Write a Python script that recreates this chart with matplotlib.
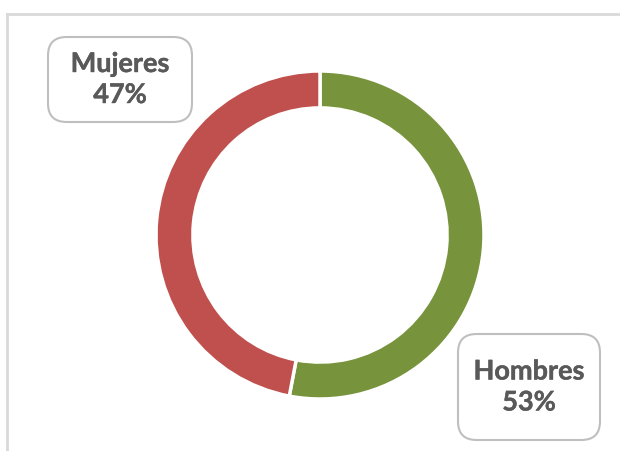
import matplotlib.pyplot as plt
import matplotlib.patheffects as pe
from matplotlib.lines import Line2D
from matplotlib.patches import FancyBboxPatch

labels = ['Hombres', 'Mujeres']
values = [53, 47]
colors = ['#77933C', '#C0504D']

W, H = 620, 451
fig = plt.figure(figsize=(W / 100, H / 100), dpi=100)

# donut centred at ~(320, 235) px, outer radius ~164 px
cx, cy, r = 320, 235, 164
ax = fig.add_axes([(cx - r) / W, (H - cy - r) / H, 2 * r / W, 2 * r / H])
ax.pie(values, colors=colors, startangle=90, counterclock=False, radius=1,
       wedgeprops=dict(width=0.225, edgecolor='white', linewidth=2.5))
ax.set_xlim(-1, 1)
ax.set_ylim(-1, 1)
ax.set_aspect('equal')
ax.axis('off')

# chart container border (top + left only visible)
fig.add_artist(Line2D([7 / W, 1], [1 - 14 / H, 1 - 14 / H], color='#D9D9D9', lw=2,
                      transform=fig.transFigure))
fig.add_artist(Line2D([7 / W, 7 / W], [1 - 14 / H, 0], color='#D9D9D9', lw=2,
                      transform=fig.transFigure))

# data label boxes: (x0, y0, x1, y1) in px from top-left
boxes = {'Mujeres': (48, 37, 192, 122), 'Hombres': (458, 334, 600, 440)}
for lab, val in zip(labels, values):
    x0, y0, x1, y1 = boxes[lab]
    patch = FancyBboxPatch((x0 / W, 1 - y1 / H), (x1 - x0) / W, (y1 - y0) / H,
                           boxstyle='round,pad=0,rounding_size=0.03',
                           transform=fig.transFigure, facecolor='white',
                           edgecolor='#BFBFBF', lw=1.5, mutation_aspect=W / H)
    fig.add_artist(patch)
    fig.text((x0 + x1) / 2 / W, 1 - (y0 + y1) / 2 / H, f'{lab}\n{val}%',
             ha='center', va='center', fontsize=19.5, fontweight='bold',
             family='Lato', color='#595959', linespacing=1.35,
             path_effects=[pe.withStroke(linewidth=0.3, foreground='#595959')])

fig.savefig('out.png', dpi=100)
